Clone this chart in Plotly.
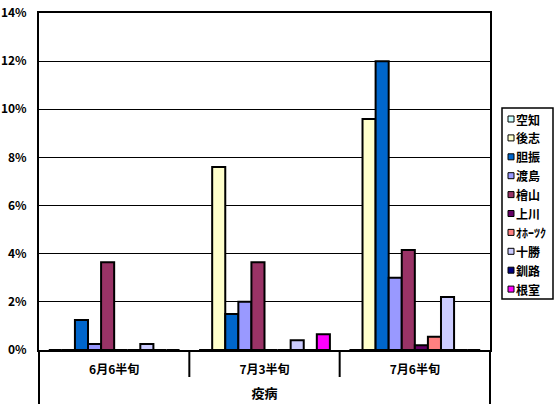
import plotly.graph_objects as go

# ---------------------------- DONNÉES ----------------------------- #
categories = ["6月6半旬", "7月3半旬", "7月6半旬"]
group_title = "疫病"

regions = ["空知", "後志", "胆振", "渡島", "檜山", "上川", "ｵﾎｰﾂｸ", "十勝", "釧路", "根室"]
colors = ["#CCFFFF", "#FFFFCC", "#0066CC", "#9999FF", "#993366",
          "#660066", "#FF8080", "#CCCCFF", "#000080", "#FF00FF"]

# taux (%) par région et par période
values = {
    "空知": [0, 0, 0],
    "後志": [0, 7.6, 9.6],
    "胆振": [1.25, 1.5, 12.0],
    "渡島": [0.25, 2.0, 3.0],
    "檜山": [3.65, 3.65, 4.15],
    "上川": [0, 0, 0.2],
    "ｵﾎｰﾂｸ": [0, 0, 0.55],
    "十勝": [0.25, 0.4, 2.2],
    "釧路": [0, 0, 0],
    "根室": [0, 0.65, 0],
}

y_ticks = [0, 2, 4, 6, 8, 10, 12, 14]

FONT = "Noto Sans CJK JP"

# zone de tracé en pixels : x 39 -> 490, y 13 -> 350
L, R, T, B = 39, 490, 13, 350
W, H = R - L, B - T


def px(x):
    return (x - L) / W


def py(y):
    return (B - y) / H


fig = go.Figure()
for region, color in zip(regions, colors):
    fig.add_trace(go.Bar(
        x=categories,
        y=[v / 100 for v in values[region]],
        name=region,
        marker=dict(color=color, line=dict(color="black", width=2)),
        showlegend=False,
    ))

# Mise en forme
fig.update_layout(
    width=558,
    height=408,
    margin=dict(l=L, r=558 - R, t=T, b=408 - B, autoexpand=False),
    paper_bgcolor="white",
    plot_bgcolor="white",
    barmode="group",
    bargap=0.13,
    bargroupgap=0,
    font=dict(family=FONT, size=12, color="black"),
)

fig.update_yaxes(
    range=[0, 0.14],
    tickvals=[t / 100 for t in y_ticks],
    ticktext=[f"{t}%" for t in y_ticks],
    showgrid=True, gridcolor="black", gridwidth=1,
    showline=True, linecolor="black", linewidth=2, mirror=True,
    zeroline=False, automargin=False,
    ticks="", ticklabelstandoff=8,
    tickfont=dict(family=FONT, size=12, weight="bold"),
)

fig.update_xaxes(
    showline=True, linecolor="black", linewidth=2, mirror=True,
    ticks="", ticklabelstandoff=8, automargin=False,
    tickfont=dict(family=FONT, size=12, weight="bold"),
    title=dict(text=group_title, standoff=12,
               font=dict(family=FONT, size=13, weight="bold")),
)

# Séparateurs de catégories sous l'axe
for xb in [0.5, 1.5]:
    fig.add_shape(type="line", xref="x", yref="paper",
                  x0=xb, x1=xb, y0=0, y1=py(377),
                  line=dict(color="black", width=2))
for xp in [0, 1]:
    fig.add_shape(type="line", xref="paper", yref="paper",
                  x0=xp, x1=xp, y0=0, y1=py(404),
                  line=dict(color="black", width=2))

# Légende dessinée à la main (carrés de 7 px comme l'original)
fig.add_shape(type="rect", xref="paper", yref="paper",
              x0=px(502), x1=px(553), y0=py(108), y1=py(299),
              line=dict(color="black", width=1.5), fillcolor="white",
              layer="below")
for i, (region, color) in enumerate(zip(regions, colors)):
    yc = 119 + i * 18.9
    fig.add_shape(type="rect", xref="paper", yref="paper",
                  x0=px(508), x1=px(514), y0=py(yc - 3), y1=py(yc + 3),
                  line=dict(color="black", width=1), fillcolor=color)
    fig.add_annotation(xref="paper", yref="paper", x=px(514), y=py(yc),
                       text=region, showarrow=False,
                       xanchor="left", yanchor="middle",
                       font=dict(family=FONT, size=12, weight="bold"))

# pas de marge de page autour du graphique, pas de barre d'outils
fig.write_html("out.html", config={"displayModeBar": False},
               post_script="document.body.style.margin='0';")
